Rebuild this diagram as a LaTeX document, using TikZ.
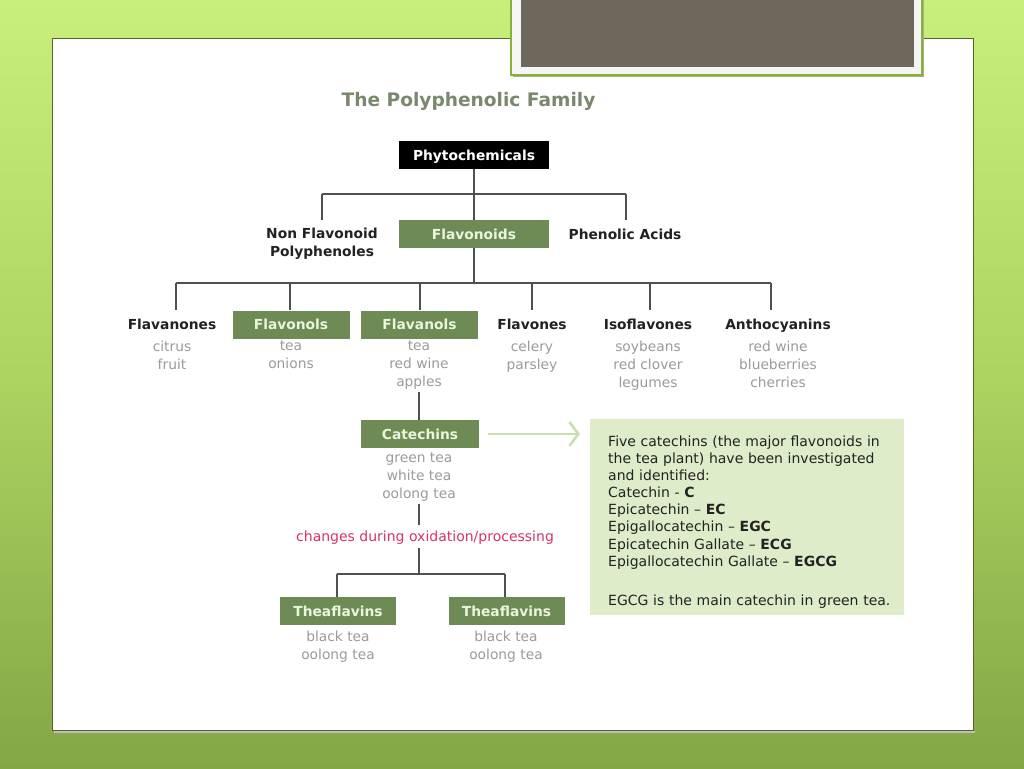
\documentclass[tikz,border=0pt]{standalone}
\usepackage{fontspec}
\setmainfont{DejaVu Sans}
\usetikzlibrary{arrows.meta}
\definecolor{bgtop}{RGB}{200,238,124}
\definecolor{bgmid}{RGB}{172,210,96}
\definecolor{bgbot}{RGB}{132,166,70}
\definecolor{boxgreen}{RGB}{111,139,85}
\definecolor{boxtext}{RGB}{234,244,222}
\definecolor{subgray}{RGB}{155,155,155}
\definecolor{linegray}{RGB}{80,80,80}
\definecolor{infofill}{RGB}{222,236,202}
\definecolor{arrowgreen}{RGB}{202,222,178}
\definecolor{redtext}{RGB}{214,52,100}
\definecolor{titlecol}{RGB}{122,136,108}
\definecolor{framegray}{RGB}{110,104,92}
\definecolor{panelborder}{RGB}{80,104,36}
\definecolor{framegreen}{RGB}{138,176,60}
\definecolor{darktext}{RGB}{34,34,34}
\begin{document}
\begin{tikzpicture}[x=1pt,y=-1pt,
  link/.style={draw=linegray,line width=1.1pt},
  gbox/.style={fill=boxgreen,text=boxtext,font=\bfseries\fontsize{13.8}{16}\selectfont,
    minimum width=117pt,minimum height=28pt,inner sep=0pt,text height=10pt,text depth=0pt},
  bbox/.style={fill=black,text=white,font=\bfseries\fontsize{13.8}{16}\selectfont,
    minimum width=150pt,minimum height=28pt,inner sep=0pt,text height=10pt,text depth=0pt},
  lbl/.style={text=darktext,font=\bfseries\fontsize{13.8}{18}\selectfont,align=center,inner sep=0pt,anchor=base},
  subtxt/.style={text=subgray,font=\fontsize{13.8}{18}\selectfont,align=center,inner sep=0pt,anchor=north,
    execute at begin node={\rule{0pt}{12pt}}}
]
\useasboundingbox (0,0) rectangle (1024,768);
% background
\shade[top color=bgtop,bottom color=bgbot,middle color=bgmid] (0,0) rectangle (1024,768);
% panel
\fill[black!25] (54,731) rectangle (975,733);
\draw[fill=white,draw=panelborder,line width=0.8pt] (52,38) rectangle (973,730);
% picture frame
\fill[framegreen!70!black!60] (513,-5) rectangle (924,77);
\draw[fill=white!96!black,draw=framegreen,line width=1.5pt] (511,-5) rectangle (922,75);
\fill[framegray] (521,-5) rectangle (914,67);
% title
\node[text=titlecol,font=\bfseries\fontsize{18.6}{20}\selectfont,anchor=base,inner sep=0pt] (title) at (468.5,106) {The Polyphenolic Family};
% level 1
\node[bbox] (phyto) at (474,155) {Phytochemicals};
\node[gbox,minimum width=150pt] (flav) at (474,234) {Flavonoids};
\node[lbl,anchor=north,execute at begin node={\rule{0pt}{11pt}}] (nonflav) at (322,228) {Non Flavonoid\\Polyphenoles};
\node[lbl] (phen) at (625,239) {Phenolic Acids};
\coordinate (jl) at (322,194);
\coordinate (jr) at (626,194);
\draw[link] (phyto.south) -- (flav.north);
\draw[link] (jl) -- (jr);
\draw[link] (jl) -- (jl |- flav.north);
\draw[link] (jr) -- (jr |- flav.north);
% level 2
\node[lbl] (fnon) at (172,329) {Flavanones};
\node[gbox] (fol) at (291,324.5) {Flavonols};
\node[gbox] (fan) at (419.5,324.5) {Flavanols};
\node[lbl] (fone) at (532,329) {Flavones};
\node[lbl] (iso) at (648,329) {Isoflavones};
\node[lbl] (antho) at (778,329) {Anthocyanins};
\coordinate (j2) at (474,283);
\coordinate (j2l) at (176,283);
\coordinate (j2r) at (771,283);
\draw[link] (flav.south) -- (j2);
\draw[link] (j2l) -- (j2r);
\foreach \x in {176,290,420,532,650,771}{
  \coordinate (t\x) at (\x,283);
  \draw[link] (t\x) -- (t\x |- fol.north);
}
\node[subtxt] (s1) at (172,340.5) {citrus\\fruit};
\node[subtxt] (s2) at (291,340.5) {tea\\onions};
\node[subtxt] (s3) at (419,340.5) {tea\\red wine\\apples};
\node[subtxt] (s4) at (532,340.5) {celery\\parsley};
\node[subtxt] (s5) at (648,340.5) {soybeans\\red clover\\legumes};
\node[subtxt] (s6) at (778,340.5) {red wine\\blueberries\\cherries};
% catechins
\node[gbox,minimum width=118pt] (cat) at (420,434) {Catechins};
\draw[link] (s3.south) ++(0,3) coordinate (s3b) -- (s3b |- cat.north);
\node[subtxt] (catsub) at (419,453) {green tea\\white tea\\oolong tea};
% info box
\node[fill=infofill,anchor=north west,minimum width=314pt,minimum height=196pt,inner sep=0pt] (info) at (590,419) {};
\node[anchor=north west,inner sep=0pt,text width=290pt,align=left,text=darktext,
  font=\fontsize{14}{17.15}\selectfont,execute at begin node={\rule{0pt}{11pt}}] (infotext) at (608,435)
  {Five catechins (the major flavonoids in\\ the tea plant) have been investigated\\ and identified:\\
   Catechin - \textbf{C}\\
   Epicatechin – \textbf{EC}\\
   Epigallocatechin – \textbf{EGC}\\
   Epicatechin Gallate – \textbf{ECG}\\
   Epigallocatechin Gallate – \textbf{EGCG}\\[21.7pt]
   EGCG is the main catechin in green tea.};
\draw[draw=arrowgreen,line width=2.6pt,shorten <=9pt,shorten >=10pt,
  -{Straight Barb[length=9pt,width=24pt,line width=2.6pt]}] (cat.east) -- (cat.east -| info.west);
% oxidation
\node[text=redtext,font=\fontsize{14}{16}\selectfont,inner sep=0pt,anchor=base] (chg) at (425,541) {changes during oxidation/processing};
\coordinate (c1) at (419,504);
\coordinate (c2) at (419,525);
\coordinate (c3) at (419,548);
\coordinate (j3) at (419,574);
\draw[link] (c1) -- (c2);
\draw[link] (c3) -- (j3);
\node[gbox,minimum width=116pt] (tf1) at (338,611) {Theaflavins};
\node[gbox,minimum width=116pt] (tf2) at (506.5,611) {Theaflavins};
\coordinate (j3l) at (337,574);
\coordinate (j3r) at (505,574);
\draw[link] (j3l) -- (j3r);
\draw[link] (j3l) -- (j3l |- tf1.north);
\draw[link] (j3r) -- (j3r |- tf2.north);
\node[subtxt] (tfs1) at (338,630.5) {black tea\\oolong tea};
\node[subtxt] (tfs2) at (506,630.5) {black tea\\oolong tea};
\end{tikzpicture}
\end{document}
